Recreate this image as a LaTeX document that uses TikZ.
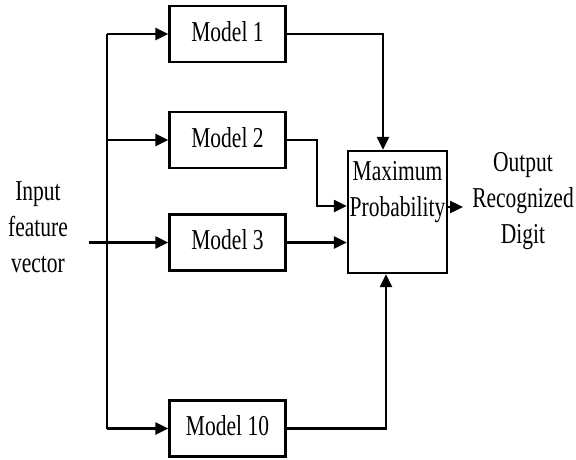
\documentclass[tikz,border=0pt]{standalone}
\usepackage{fontspec}
\setmainfont{Liberation Serif}
\usetikzlibrary{arrows.meta}
\newcommand{\stxt}[1]{\scalebox{1}[1.34]{\fontsize{21.5}{26.8}\selectfont\begin{tabular}{@{}c@{}}#1\end{tabular}}}
\tikzset{
  box/.style={draw, line width=2.4pt, minimum width=116pt, minimum height=56pt, inner sep=0pt},
  lbl/.style={inner sep=0pt},
  arr/.style={-{Triangle[length=13pt,width=12pt]}},
  every path/.style={line width=2.4pt}
}
\begin{document}
\begin{tikzpicture}[x=1pt,y=-1pt]
\useasboundingbox (0,0) rectangle (576,459);
\node[box] (m1) at (227.5,34) {\stxt{Model 1}};
\node[box] (m2) at (227.5,140) {\stxt{Model 2}};
\node[box] (m3) at (227.5,242.5) {\stxt{Model 3}};
\node[box] (m10) at (227.5,428.5) {\stxt{Model 10}};
\node[draw, line width=2.4pt, minimum width=99pt, minimum height=122pt, inner sep=0pt] (max) at (397.5,212) {};
\node[lbl] (maxt) at (397.5,191) {\stxt{Maximum\\Probability}};
\node[lbl] (inp) at (38,229) {\stxt{Input\\feature\\vector}};
\node[lbl] (outp) at (523,200) {\stxt{Output\\Recognized\\Digit}};
\coordinate (in) at (89,242.5);
\coordinate (bt) at (107,34);
\coordinate (bb) at (107,428.5);
\coordinate (c1) at (383,0);
\coordinate (c2) at (317,206);
\coordinate (c4) at (386,0);
\coordinate (o1) at (447,207);
\coordinate (o2) at (463,207);
\draw (bt) -- (bb);
\draw[arr] (bt) -- (m1.west);
\draw[arr] (m2.west -| bt) -- (m2.west);
\draw[arr] (bb) -- (m10.west);
\draw[arr] (in) -- (m3.west);
\draw[arr] (m1.east) -| (c1 |- max.north);
\draw[arr] (m2.east) -| (c2) -- (c2 -| max.west);
\draw[arr] (m3.east) -- (m3.east -| max.west);
\draw[arr] (m10.east) -| (c4 |- max.south);
\draw[arr] (o1) -- (o2);
\end{tikzpicture}
\end{document}
